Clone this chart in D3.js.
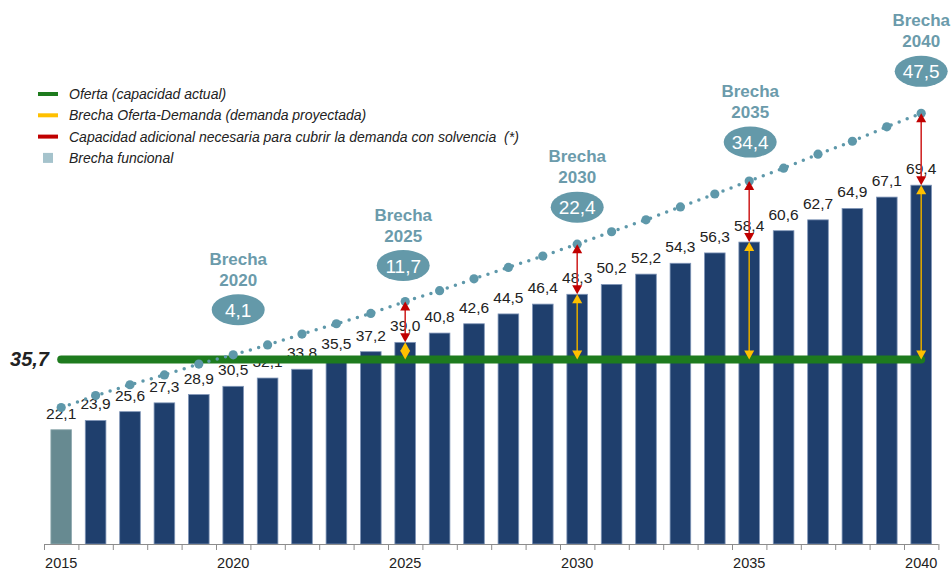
<!DOCTYPE html>
<html>
<head>
<meta charset="utf-8">
<script src="https://cdn.jsdelivr.net/npm/d3@7"></script>
<style>
  body { margin: 0; background: #fff; }
  svg { display: block; font-family: Arial, "Liberation Sans", sans-serif; }
</style>
</head>
<body>
<div class="canvas"></div>
<script>
const [width, height] = [952, 571];

// data
const years = d3.range(2015, 2041);
const capacidad = [22.1, 23.9, 25.6, 27.3, 28.9, 30.5, 32.1, 33.8, 35.5, 37.2, 39.0, 40.8, 42.6,
                   44.5, 46.4, 48.3, 50.2, 52.2, 54.3, 56.3, 58.4, 60.6, 62.7, 64.9, 67.1, 69.4];
const demanda = [26.4, 28.7, 30.8, 32.7, 34.8, 36.6, 38.5, 40.6, 42.6, 44.6, 46.9, 49.0, 51.3,
                 53.5, 55.7, 58.0, 60.4, 62.7, 65.2, 67.7, 70.2, 72.7, 75.4, 77.9, 80.7, 83.3];
const oferta = 35.7;
const brechaYears = [2020, 2025, 2030, 2035, 2040];
const brechaValues = ["4,1", "11,7", "22,4", "34,4", "47,5"];
const arrowYears = [2025, 2030, 2035, 2040];
const tickYears = [2015, 2020, 2025, 2030, 2035, 2040];
const legendItems = [
  { label: "Oferta (capacidad actual)", color: "#1e7b1e", type: "line" },
  { label: "Brecha Oferta-Demanda (demanda proyectada)", color: "#ffc000", type: "line" },
  { label: "Capacidad adicional necesaria para cubrir la demanda con solvencia \u00a0(*)", color: "#c00000", type: "line" },
  { label: "Brecha funcional", color: "#a5c3cc", type: "square" }
];

const fmt = v => d3.format(".1f")(v).replace(".", ",");

const svg = d3.select('.canvas')
  .append('svg')
  .attr('width', width)
  .attr('height', height);

const x = d3.scaleBand()
  .domain(years)
  .range([44, 938.4])
  .paddingInner(0.4)
  .paddingOuter(0.2);

const y = d3.scaleLinear()
  .domain([0, 100])
  .range([544, 27]);

const cx = yr => x(yr) + x.bandwidth() / 2;
const valAt = (arr, yr) => arr[years.indexOf(yr)];

// bars
svg.selectAll('rect.bar')
  .data(years)
  .enter()
  .append('rect')
  .attr('class', 'bar')
  .attr('x', d => x(d))
  .attr('width', x.bandwidth())
  .attr('y', (d, i) => y(capacidad[i]))
  .attr('height', (d, i) => y(0) - y(capacidad[i]))
  .attr('fill', (d, i) => i === 0 ? '#678a91' : '#1f3f6d')
  .attr('stroke', (d, i) => i === 0 ? '#8ea9ae' : '#8096b8')
  .attr('stroke-width', 0.8);

// x axis: line + ticks at band boundaries
const xa = svg.append('g');
xa.append('line')
  .attr('x1', 44).attr('x2', 938.4)
  .attr('y1', y(0) + 0.5).attr('y2', y(0) + 0.5)
  .attr('stroke', '#8c8c8c').attr('stroke-width', 1);
xa.selectAll('line.tick')
  .data(d3.range(years.length + 1))
  .enter()
  .append('line')
  .attr('class', 'tick')
  .attr('x1', i => 44 + i * x.step() + 0.5)
  .attr('x2', i => 44 + i * x.step() + 0.5)
  .attr('y1', y(0))
  .attr('y2', y(0) + 6)
  .attr('stroke', '#8c8c8c');
xa.selectAll('text')
  .data(tickYears)
  .enter()
  .append('text')
  .attr('x', d => cx(d))
  .attr('y', 568)
  .attr('text-anchor', 'middle')
  .attr('font-size', 14.5)
  .attr('fill', '#222')
  .text(d => d);

// value labels
svg.selectAll('text.val')
  .data(years)
  .enter()
  .append('text')
  .attr('class', 'val')
  .attr('x', d => cx(d))
  .attr('y', (d, i) => y(capacidad[i]) - 11)
  .attr('text-anchor', 'middle')
  .attr('font-size', 15.5)
  .attr('fill', '#222')
  .text((d, i) => fmt(capacidad[i]));

// oferta line
svg.append('line')
  .attr('x1', cx(2015)).attr('x2', cx(2040))
  .attr('y1', y(oferta)).attr('y2', y(oferta))
  .attr('stroke', '#1e7b1e')
  .attr('stroke-width', 8)
  .attr('stroke-linecap', 'round');
svg.append('text')
  .attr('x', 49)
  .attr('y', y(oferta) + 7)
  .attr('text-anchor', 'end')
  .attr('font-size', 20)
  .attr('font-weight', 'bold')
  .attr('font-style', 'italic')
  .attr('fill', '#222')
  .text(fmt(oferta));

// demand dotted line
const lineGenerator = d3.line()
  .x(d => cx(d[0]))
  .y(d => y(d[1]));
svg.append('path')
  .attr('d', lineGenerator(years.map((d, i) => [d, demanda[i]])))
  .attr('fill', 'none')
  .attr('stroke', '#5e98aa')
  .attr('stroke-width', 3.5)
  .attr('stroke-linecap', 'round')
  .attr('stroke-dasharray', '0 8.6');
svg.selectAll('circle.dem')
  .data(years)
  .enter()
  .append('circle')
  .attr('class', 'dem')
  .attr('cx', d => cx(d))
  .attr('cy', (d, i) => y(demanda[i]))
  .attr('r', 4.6)
  .attr('fill', '#5e98aa');

// double arrows
function arrow(xp, y1, y2, head, line) {
  const g = svg.append('g');
  const h = 9, w = 5;
  g.append('line')
    .attr('x1', xp).attr('x2', xp)
    .attr('y1', y1 + 4).attr('y2', y2 - 4)
    .attr('stroke', line).attr('stroke-width', 1.6);
  g.append('path')
    .attr('d', `M${xp},${y1}L${xp - w},${y1 + h}L${xp + w},${y1 + h}Z`)
    .attr('fill', head);
  g.append('path')
    .attr('d', `M${xp},${y2}L${xp - w},${y2 - h}L${xp + w},${y2 - h}Z`)
    .attr('fill', head);
}
arrowYears.forEach(yr => {
  const xp = cx(yr);
  const top = y(valAt(demanda, yr));
  const bar = y(valAt(capacidad, yr));
  arrow(xp, bar, y(oferta), '#ffc000', '#d9a400');
  arrow(xp, top, bar, '#c00000', '#d12a2a');
});

// brecha annotations
const annOffset = [45, 36, 37, 39, 42];
const annDx = [5, -2, 0, 1, 0];
brechaYears.forEach((yr, i) => {
  const ax = cx(yr) + annDx[i];
  const ey = y(valAt(demanda, yr)) - annOffset[i];
  const g = svg.append('g');
  g.append('ellipse')
    .attr('cx', ax).attr('cy', ey)
    .attr('rx', 26.5).attr('ry', 15.5)
    .attr('fill', '#6499a9');
  g.append('text')
    .attr('x', ax).attr('y', ey + 7)
    .attr('text-anchor', 'middle')
    .attr('font-size', 19)
    .attr('fill', '#fff')
    .text(brechaValues[i]);
  g.append('text')
    .attr('x', ax).attr('y', ey - 45)
    .attr('text-anchor', 'middle')
    .attr('font-size', 17)
    .attr('font-weight', 'bold')
    .attr('fill', '#6b9bab')
    .text('Brecha');
  g.append('text')
    .attr('x', ax).attr('y', ey - 24)
    .attr('text-anchor', 'middle')
    .attr('font-size', 17)
    .attr('font-weight', 'bold')
    .attr('fill', '#6b9bab')
    .text(yr);
});

// legend
const legend = svg.append('g');
legendItems.forEach((d, i) => {
  const ly = 94 + i * 21.3;
  if (d.type === 'line') {
    legend.append('line')
      .attr('x1', 38).attr('x2', 58)
      .attr('y1', ly).attr('y2', ly)
      .attr('stroke', d.color).attr('stroke-width', 4);
  } else {
    legend.append('rect')
      .attr('x', 43).attr('y', ly - 5)
      .attr('width', 10).attr('height', 10)
      .attr('fill', d.color);
  }
  legend.append('text')
    .attr('x', 69).attr('y', ly + 5)
    .attr('font-size', 14)
    .attr('font-style', 'italic')
    .attr('fill', '#222')
    .text(d.label);
});
</script>
</body>
</html>
